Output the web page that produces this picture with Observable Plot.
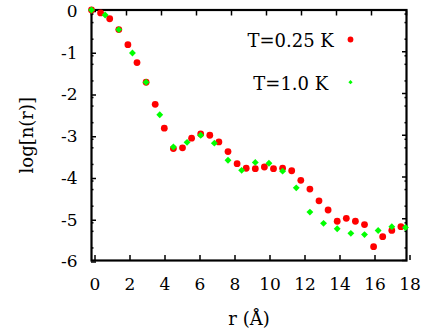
<!DOCTYPE html>
<html>
<head>
<meta charset="utf-8">
<script src="https://cdn.jsdelivr.net/npm/d3@7"></script>
<script src="https://cdn.jsdelivr.net/npm/@observablehq/plot@0.6"></script>
<style>
  html, body { margin: 0; padding: 0; background: #fff; }
</style>
</head>
<body>
<div id="chart"></div>
<script>
// T = 0.25 K (red circles)
const rRed = [0,0.52,1.04,1.56,2.08,2.6,3.12,3.64,4.16,4.68,5.2,5.72,6.24,6.76,7.28,7.8,8.32,8.84,9.36,9.88,10.4,10.92,11.44,11.96,12.48,13.0,13.52,14.04,14.56,15.08,15.6,16.12,16.64,17.16,17.68];
const logRed = [0,-0.07,-0.21,-0.47,-0.83,-1.26,-1.73,-2.26,-2.83,-3.32,-3.30,-3.07,-2.97,-3.00,-3.16,-3.39,-3.68,-3.79,-3.80,-3.76,-3.80,-3.79,-3.85,-4.08,-4.29,-4.57,-4.79,-5.06,-4.99,-5.06,-5.14,-5.67,-5.43,-5.28,-5.19];
// T = 1.0 K (green diamonds)
const rGreen = [0,0.78,1.56,2.34,3.12,3.9,4.68,5.46,6.24,7.02,7.8,8.58,9.36,10.14,10.92,11.7,12.48,13.26,14.04,14.82,15.6,16.38,17.16,17.94];
const logGreen = [0,-0.12,-0.47,-1.03,-1.73,-2.51,-3.28,-3.17,-3.00,-3.19,-3.60,-3.84,-3.65,-3.67,-3.86,-4.26,-4.84,-5.11,-5.24,-5.35,-5.38,-5.28,-5.19,-5.21];

const seriesNames = ["T=0.25 K", "T=1.0 K"];
const xTicks = [0,2,4,6,8,10,12,14,16,18];
const yTicks = [0,-1,-2,-3,-4,-5,-6];
const yMinorTicks = [-0.097,-0.301,-0.699,-1.097,-1.301,-1.699,-2.097,-2.301,-2.699,-3.097,-3.301,-3.699,-4.097,-4.301,-4.699,-5.097,-5.301,-5.699];
const xLabel = "r (Å)";
const yLabel = "log[n(r)]";

const red = rRed.map((r, i) => ({r, v: logRed[i]}));
const green = rGreen.map((r, i) => ({r, v: logGreen[i]}));

const font = "DejaVu Serif";

const chart = Plot.plot({
  width: 424,
  height: 332,
  marginLeft: 91,
  marginRight: 18,
  marginTop: 9.5,
  marginBottom: 72,
  style: {fontFamily: font, fontSize: "20px", background: "#fff", color: "#000", overflow: "visible"},
  x: {domain: [0, 18]},
  y: {domain: [-6, 0]},
  marks: [
    Plot.axisX({anchor: "bottom", ticks: xTicks, tickSize: -5, tickPadding: 22, fontSize: 17, fontFamily: font, label: null, strokeWidth: 1.5, dx: 3.5}),
    Plot.axisX({anchor: "top", ticks: xTicks, tickSize: -5, tickFormat: () => "", label: null, strokeWidth: 1.5}),
    Plot.axisY({anchor: "left", ticks: yTicks, tickSize: -5, tickPadding: 19, fontSize: 17, fontFamily: font, label: null, strokeWidth: 1.5, tickFormat: d => d === 0 ? "0" : String(d).replace("\u2212", "-"), dy: 1.5}),
    Plot.axisY({anchor: "right", ticks: yTicks, tickSize: -5, tickFormat: () => "", label: null, strokeWidth: 1.5}),
    Plot.axisY({anchor: "left", ticks: yMinorTicks, tickSize: -2.5, tickFormat: () => "", label: null, strokeWidth: 1.5}),
    Plot.axisY({anchor: "right", ticks: yMinorTicks, tickSize: -2.5, tickFormat: () => "", label: null, strokeWidth: 1.5}),
    Plot.frame({stroke: "#000", strokeWidth: 2.2}),
    Plot.dot(red, {x: "r", y: "v", r: 3.4, fill: "#ff0000", stroke: null}),
    Plot.dot(green, {x: "r", y: "v", r: 3.1, symbol: "diamond2", fill: "#00ff00", stroke: null}),
    // legend
    Plot.text([seriesNames[0]], {frameAnchor: "top-right", textAnchor: "end", lineAnchor: "bottom", dx: -72.7, dy: 37.2, fontSize: 18, fontFamily: font, fill: "#000"}),
    Plot.text([seriesNames[1]], {frameAnchor: "top-right", textAnchor: "end", lineAnchor: "bottom", dx: -78.3, dy: 79.8, fontSize: 18, fontFamily: font, fill: "#000"}),
    Plot.dot([seriesNames[0]], {frameAnchor: "top-right", dx: -56, dy: 29.5, r: 2.9, fill: "#ff0000", stroke: null}),
    Plot.dot([seriesNames[1]], {frameAnchor: "top-right", dx: -56, dy: 72.2, r: 1.9, symbol: "diamond2", fill: "#00ff00", stroke: null}),
    // axis titles
    Plot.text([xLabel], {frameAnchor: "bottom", textAnchor: "middle", lineAnchor: "bottom", dy: 64, fontSize: 18, fontFamily: font, fill: "#000"}),
    Plot.text([yLabel], {frameAnchor: "left", textAnchor: "middle", lineAnchor: "bottom", rotate: -90, dx: -58.3, fontSize: 18, fontFamily: font, fill: "#000"})
  ]
});
document.getElementById("chart").appendChild(chart);
</script>
</body>
</html>
